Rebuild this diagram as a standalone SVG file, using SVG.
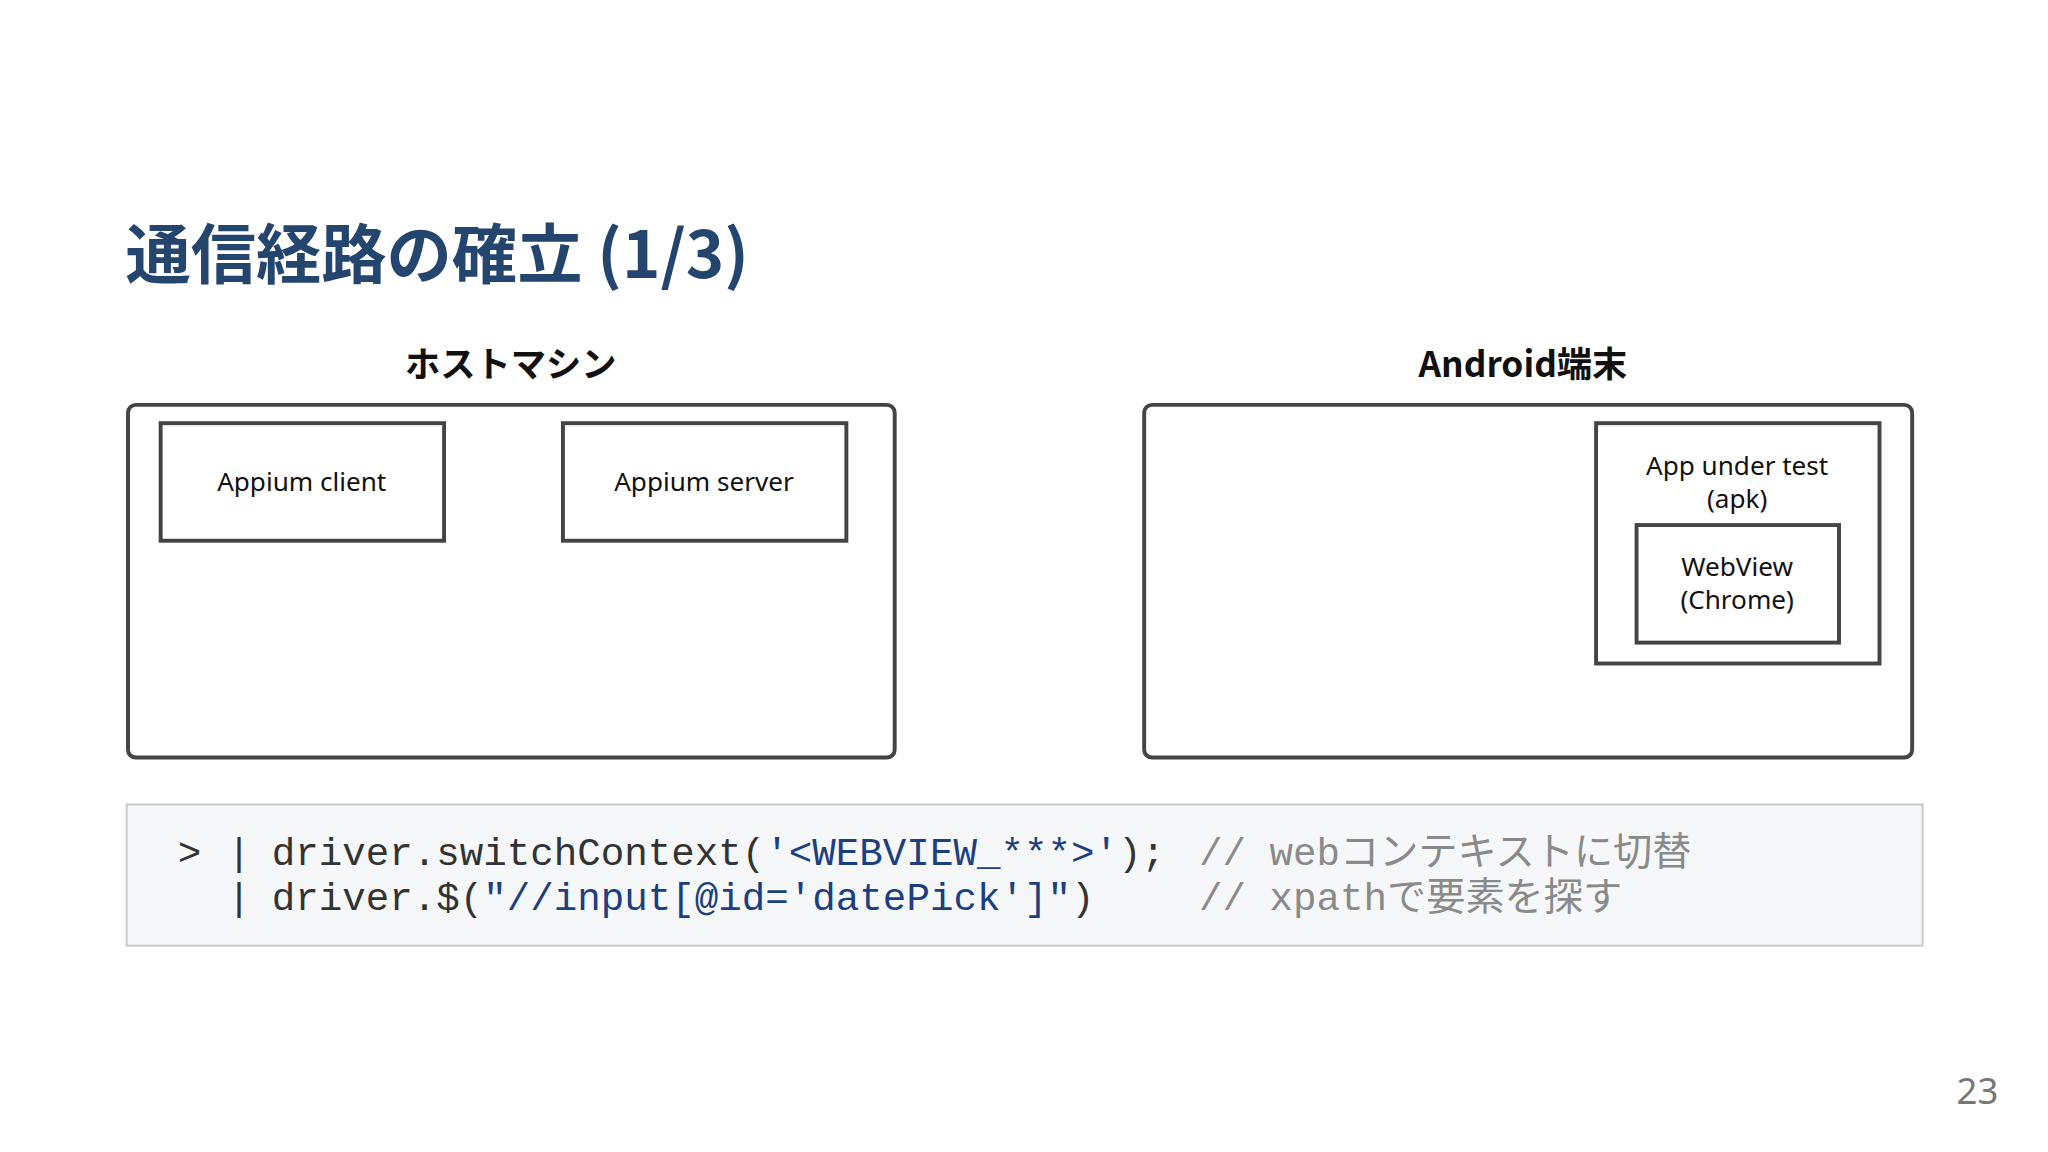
<svg xmlns="http://www.w3.org/2000/svg" width="2048" height="1152" viewBox="0 0 2048 1152">
<style>
.box{fill:none;stroke:#444;stroke-width:3}
.nt{font-family:"Noto Sans","Liberation Sans",sans-serif;font-size:20px;fill:#111;text-anchor:middle}
.lbl{font-family:"Noto Sans CJK JP","Noto Sans",sans-serif;font-size:27px;font-weight:bold;fill:#111;text-anchor:middle}
.code{font-family:"Liberation Mono","Noto Sans CJK JP",monospace;font-size:30px;fill:#333}
.s{fill:#1b3f80}.c{fill:#8a8a8a}
</style>
<rect width="2048" height="1152" fill="#fff"/>
<g transform="scale(1.30612)">
<text x="96" y="213" font-family="Noto Sans CJK JP,Noto Sans,sans-serif" font-size="50" font-weight="bold" fill="#24456e">通信経路の確立 (1/3)</text>
<g id="host">
<text class="lbl" x="391" y="289">ホストマシン</text>
<rect class="box" x="98" y="310" width="587" height="270" rx="6"/>
</g>
<g id="client"><rect class="box" x="123" y="324" width="217" height="90"/><text class="nt" x="231" y="376">Appium client</text></g>
<g id="server"><rect class="box" x="431" y="324" width="217" height="90"/><text class="nt" x="539" y="376">Appium server</text></g>
<g id="android">
<text class="lbl" x="1166" y="289">Android端末</text>
<rect class="box" x="876" y="310" width="588" height="270" rx="6"/>
</g>
<g id="app"><rect class="box" x="1222" y="324" width="217" height="184"/><text class="nt" x="1330" y="364">App under test</text><text class="nt" x="1330" y="389">(apk)</text></g>
<g id="webview"><rect class="box" x="1253" y="402" width="155" height="90"/><text class="nt" x="1330" y="441">WebView</text><text class="nt" x="1330" y="466">(Chrome)</text></g>
<g id="code">
<rect x="97" y="616" width="1375" height="108" fill="#f6f7f9" stroke="#c8c8c8" stroke-width="1.5"/>
<text class="code" x="136" y="662">&gt;</text>
<text class="code" x="174" y="662">|</text>
<text class="code" x="174" y="697">|</text>
<text class="code" x="208" y="662">driver.switchContext(<tspan class="s">'&lt;WEBVIEW_***&gt;'</tspan>);</text>
<text class="code c" x="918" y="662">// webコンテキストに切替</text>
<text class="code" x="208" y="697">driver.$(<tspan class="s">"//input[@id='datePick']"</tspan>)</text>
<text class="code c" x="918" y="697">// xpathで要素を探す</text>
</g>
<text x="1530" y="845" font-family="Noto Sans,sans-serif" font-size="28" fill="#777" text-anchor="end">23</text>
</g>
</svg>
